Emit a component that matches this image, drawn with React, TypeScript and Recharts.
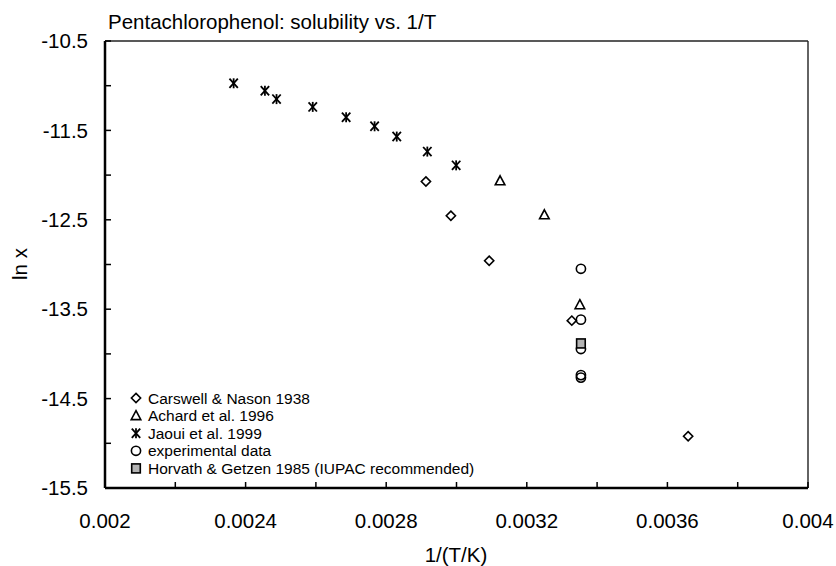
import React from 'react';
import { ScatterChart, Scatter, XAxis, YAxis, ReferenceLine } from 'recharts';

// ---- data (1/T in 1/K, ln x) ----
const carswellX = [0.002913, 0.002984, 0.003093, 0.003328, 0.003659];
const carswellY = [-12.072, -12.455, -12.958, -13.628, -14.921];

const achardX = [0.003124, 0.00325, 0.003351];
const achardY = [-12.064, -12.444, -13.45];

const jaouiX = [0.002366, 0.002455, 0.002488, 0.002591, 0.002686, 0.002767, 0.00283, 0.002917, 0.002999];
const jaouiY = [-10.973, -11.056, -11.15, -11.237, -11.353, -11.454, -11.569, -11.737, -11.891];

const expX = [0.003354, 0.003354, 0.003354, 0.003354, 0.003354];
const expY = [-13.048, -13.617, -13.945, -14.237, -14.265];

const horvathX = [0.003354];
const horvathY = [-13.883];

const xTicks = [0.002, 0.0022, 0.0024, 0.0026, 0.0028, 0.003, 0.0032, 0.0034, 0.0036, 0.0038, 0.004];
const xTickLabels = ['0.002', '', '0.0024', '', '0.0028', '', '0.0032', '', '0.0036', '', '0.004'];
const yTicks = [-15.5, -15, -14.5, -14, -13.5, -13, -12.5, -12, -11.5, -11, -10.5];
const yTickLabels = ['-15.5', '', '-14.5', '', '-13.5', '', '-12.5', '', '-11.5', '', '-10.5'];

const seriesNames = [
  'Carswell & Nason 1938',
  'Achard et al. 1996',
  'Jaoui et al. 1999',
  'experimental data',
  'Horvath & Getzen 1985 (IUPAC recommended)',
];

const zip = (xs: number[], ys: number[]) => xs.map((x, i) => ({ x, y: ys[i] }));

const FONT = '"Liberation Sans", Arial, sans-serif';
const SW = 1.6;

const Diamond = ({ cx, cy }: any) => (
  <polygon points={`${cx},${cy - 4.6} ${cx + 4.6},${cy} ${cx},${cy + 4.6} ${cx - 4.6},${cy}`} fill="none" stroke="#000" strokeWidth={SW} />
);
const Triangle = ({ cx, cy }: any) => (
  <polygon points={`${cx},${cy - 5} ${cx + 4.8},${cy + 4} ${cx - 4.8},${cy + 4}`} fill="none" stroke="#000" strokeWidth={SW} strokeLinejoin="miter" />
);
const Star = ({ cx, cy }: any) => (
  <g stroke="#000" strokeWidth={1.8}>
    <line x1={cx - 4.2} y1={cy - 4.6} x2={cx + 4.2} y2={cy + 4.6} />
    <line x1={cx + 4.2} y1={cy - 4.6} x2={cx - 4.2} y2={cy + 4.6} />
    <line x1={cx} y1={cy - 5} x2={cx} y2={cy + 5} />
  </g>
);
const Circle = ({ cx, cy }: any) => (
  <circle cx={cx} cy={cy} r={4.6} fill="none" stroke="#000" strokeWidth={SW} />
);
const Square = ({ cx, cy }: any) => (
  <rect x={cx - 4.3} y={cy - 4.5} width={8.6} height={9} fill="#b3b3b3" stroke="#000" strokeWidth={SW} />
);

const markers = [Diamond, Triangle, Star, Circle, Square];

const fmt = (ticks: number[], labels: string[]) => (v: number) => {
  const i = ticks.findIndex((t) => Math.abs(t - v) < 1e-9);
  return i >= 0 ? labels[i] : '';
};

export default function App() {
  return (
    <div style={{ position: 'absolute', left: 0, top: 0, width: 836, height: 566, background: '#fff' }}>
      <ScatterChart
        width={836}
        height={566}
        margin={{ top: 41, right: 28, bottom: 28, left: 45 }}
        style={{ fontFamily: FONT }}
      >
        <XAxis
          type="number"
          dataKey="x"
          domain={[0.002, 0.004]}
          ticks={xTicks}
          interval={0}
          allowDataOverflow
          height={50}
          tickSize={-6}
          tickMargin={31}
          tickFormatter={fmt(xTicks, xTickLabels)}
          axisLine={{ stroke: '#000', strokeWidth: 2.5 }}
          tickLine={{ stroke: '#000', strokeWidth: 1.5 }}
          tick={{ fill: '#000', fontSize: 20.5, fontFamily: FONT }}
        />
        <YAxis
          type="number"
          dataKey="y"
          domain={[-15.5, -10.5]}
          ticks={yTicks}
          interval={0}
          allowDataOverflow
          width={60}
          tickSize={-6}
          tickMargin={23}
          tickFormatter={fmt(yTicks, yTickLabels)}
          axisLine={{ stroke: '#000', strokeWidth: 2.5 }}
          tickLine={{ stroke: '#000', strokeWidth: 1.5 }}
          tick={{ fill: '#000', fontSize: 20.5, fontFamily: FONT }}
        />
        <ReferenceLine y={-10.5} stroke="#222" strokeWidth={1.4} />
        <ReferenceLine x={0.004} stroke="#222" strokeWidth={1.4} />
        <Scatter name={seriesNames[0]} data={zip(carswellX, carswellY)} shape={(p: any) => <Diamond cx={p.cx} cy={p.cy} />} isAnimationActive={false} />
        <Scatter name={seriesNames[1]} data={zip(achardX, achardY)} shape={(p: any) => <Triangle cx={p.cx} cy={p.cy} />} isAnimationActive={false} />
        <Scatter name={seriesNames[2]} data={zip(jaouiX, jaouiY)} shape={(p: any) => <Star cx={p.cx} cy={p.cy} />} isAnimationActive={false} />
        <Scatter name={seriesNames[3]} data={zip(expX, expY)} shape={(p: any) => <Circle cx={p.cx} cy={p.cy} />} isAnimationActive={false} />
        <Scatter name={seriesNames[4]} data={zip(horvathX, horvathY)} shape={(p: any) => <Square cx={p.cx} cy={p.cy} />} isAnimationActive={false} />
      </ScatterChart>
      <svg
        width={836}
        height={566}
        style={{ position: 'absolute', left: 0, top: 0, pointerEvents: 'none' }}
        fontFamily={FONT}
      >
        <text x={108} y={29} fontSize={20.5} fill="#000">Pentachlorophenol: solubility vs. 1/T</text>
        <text x={456} y={561.5} fontSize={20.5} fill="#000" textAnchor="middle">1/(T/K)</text>
        <text x={26.5} y={264} fontSize={20.5} fill="#000" textAnchor="middle" transform="rotate(-90 26.5 264)">ln x</text>
        {seriesNames.map((name, i) => {
          const M = markers[i];
          const cy = 398 + i * 17.6;
          return (
            <g key={name}>
              <M cx={136} cy={cy} />
              <text x={148} y={cy + 5.5} fontSize={15.5} fill="#000">{name}</text>
            </g>
          );
        })}
      </svg>
    </div>
  );
}
